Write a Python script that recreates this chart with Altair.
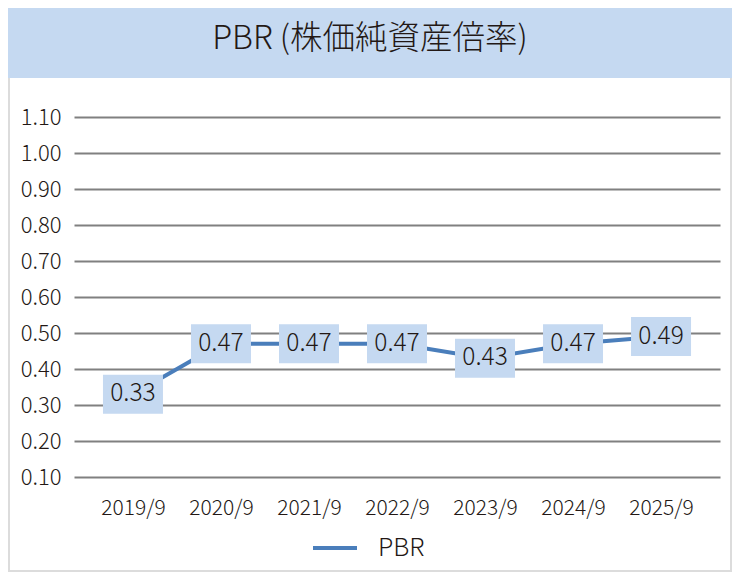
import altair as alt
import pandas as pd

# ---- data ----
periods = ["2019/9", "2020/9", "2021/9", "2022/9", "2023/9", "2024/9", "2025/9"]
pbr_values = [0.33, 0.47, 0.47, 0.47, 0.43, 0.47, 0.49]
series_name = "PBR"
y_tick_values = [0.10, 0.20, 0.30, 0.40, 0.50, 0.60, 0.70, 0.80, 0.90, 1.00, 1.10]
chart_title = "PBR (株価純資産倍率)"

df = pd.DataFrame({
    "period": periods,
    "pbr": pbr_values,
    "series": [series_name] * len(periods),
})
deco = pd.DataFrame({"k": [0]})

FONT = "Noto Sans CJK JP"
WEIGHT = 300
BAND = "#c5d9f1"
LINE = "#4a7ebb"
TXT = "#231815"
GRID = "#808080"
FRAME = "#dcdcdc"

W, H = 646, 360
PAD = {"left": 66, "top": 109, "right": 12, "bottom": 95}

x_enc = alt.X(
    "period:O",
    sort=periods,
    scale=alt.Scale(type="point", padding=0.67),
    axis=alt.Axis(title=None, labelAngle=0, ticks=False, domain=False, grid=False,
                  labelFontSize=21, labelFont=FONT, labelFontWeight=WEIGHT,
                  labelColor=TXT, labelPadding=20),
)
y_enc = alt.Y(
    "pbr:Q",
    scale=alt.Scale(domain=[0.1, 1.1], nice=False, zero=False),
    axis=alt.Axis(title=None, values=y_tick_values, format=".2f", ticks=False, domain=False,
                  grid=True, gridColor=GRID, gridWidth=2, gridOpacity=1,
                  labelFontSize=22, labelFont=FONT, labelFontWeight=WEIGHT,
                  labelColor=TXT, labelPadding=13),
)

frame = alt.Chart(deco).mark_rect(fillOpacity=0, stroke=FRAME, strokeWidth=2).encode(
    x=alt.value(-PAD["left"] + 1), x2=alt.value(W + PAD["right"] - 1),
    y=alt.value(-40), y2=alt.value(H + PAD["bottom"] - 1),
)

band = alt.Chart(deco).mark_rect(color=BAND).encode(
    x=alt.value(-PAD["left"]), x2=alt.value(W + PAD["right"]),
    y=alt.value(-PAD["top"]), y2=alt.value(-39),
)

title_text = alt.Chart(deco).mark_text(
    text=chart_title, font=FONT, fontSize=32.5, fontWeight=WEIGHT, color=TXT,
    align="center", baseline="middle",
).encode(x=alt.value(296), y=alt.value(-78))

line = alt.Chart(df).mark_line(strokeWidth=4).encode(
    x=x_enc, y=y_enc,
    color=alt.Color(
        "series:N",
        scale=alt.Scale(domain=[series_name], range=[LINE]),
        legend=alt.Legend(title=None, orient="none", legendX=237, legendY=407,
                          direction="horizontal", symbolType="stroke", symbolSize=1936,
                          symbolStrokeWidth=4, labelFontSize=25, labelFont=FONT,
                          labelFontWeight=WEIGHT, labelColor=TXT, labelOffset=19,
                          padding=0),
    ),
)

boxes = alt.Chart(df).mark_point(
    shape="M-1,-0.65H1V0.65H-1Z", filled=True, fill=BAND, opacity=1, strokeWidth=0, size=3600,
).encode(x=x_enc, y=y_enc)

labels = alt.Chart(df).mark_text(
    font=FONT, fontSize=24.5, fontWeight=WEIGHT, color=TXT, align="center", baseline="middle",
).encode(x=x_enc, y=y_enc, text=alt.Text("pbr:Q", format=".2f"))

chart = alt.layer(frame, band, title_text, line, boxes, labels).properties(
    width=W, height=H, padding=PAD, autosize="none", background="white",
).configure_view(stroke=None)

chart.save("out.html", embed_options={"renderer": "svg", "actions": False})
